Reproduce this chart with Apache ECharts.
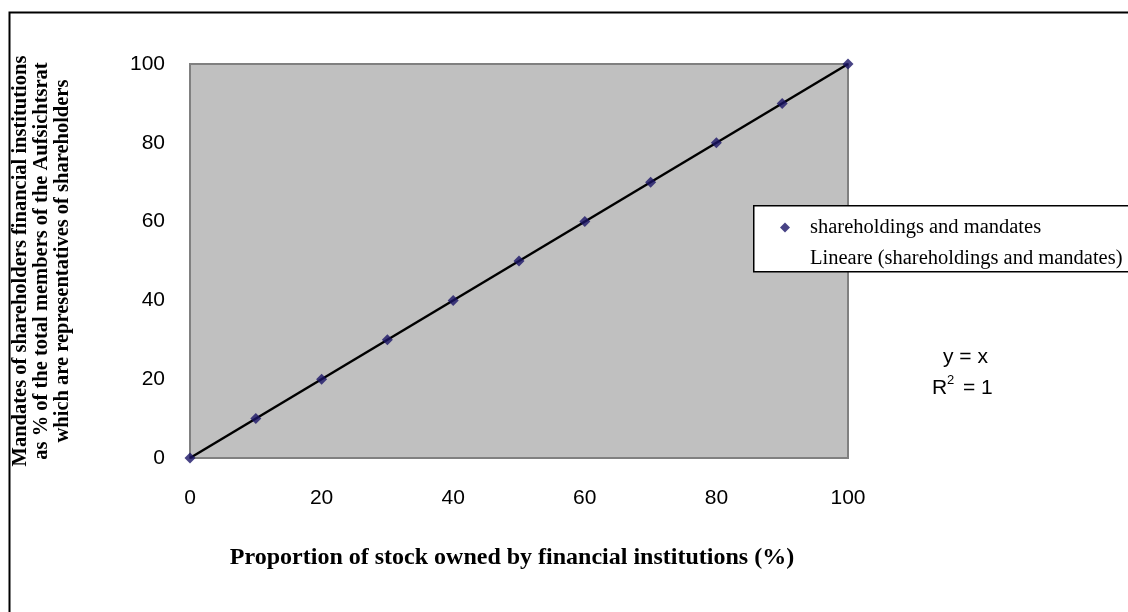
<!DOCTYPE html>
<html><head><meta charset="utf-8">
<script src="https://cdn.jsdelivr.net/npm/echarts@6/dist/echarts.min.js"></script>
<style>html,body{margin:0;padding:0;background:#fff}#c{width:1128px;height:612px}</style>
</head><body><div id="c"></div>
<script>
const xValues = [0, 10, 20, 30, 40, 50, 60, 70, 80, 90, 100];
const yValues = [0, 10, 20, 30, 40, 50, 60, 70, 80, 90, 100];
const trendX = [0, 100];
const trendY = [0, 100];
const seriesName = 'shareholdings and mandates';
const trendName = 'Lineare (shareholdings and mandates)';
const xTitle = 'Proportion of stock owned by financial institutions (%)';
const yTitleLines = ['Mandates of shareholders financial institutions', 'as % of the total members of the Aufsichtsrat', 'which are representatives of shareholders'];
const eqLine1 = 'y = x';
const eqR = 'R';
const eqSup = '2';
const eqRest = '= 1';

const chart = echarts.init(document.getElementById('c'), null, {renderer: 'canvas'});
const serif = '"Liberation Serif","Times New Roman",serif';
const sans = '"Liberation Sans",Arial,sans-serif';
chart.setOption({
  animation: false,
  grid: {left: 190, top: 64, width: 658, height: 394, show: true, backgroundColor: '#c0c0c0', borderColor: '#808080', borderWidth: 2, containLabel: false, outerBoundsMode: 'none'},
  xAxis: {
    type: 'value', min: 0, max: 100, interval: 20,
    axisLine: {show: false}, axisTick: {show: false}, splitLine: {show: false},
    axisLabel: {color: '#000', fontFamily: sans, fontSize: 21, margin: 30},
    name: xTitle, nameLocation: 'middle', nameGap: 88,
    nameTextStyle: {fontFamily: serif, fontWeight: 'bold', fontSize: 24, color: '#000', padding: [0, 14, 0, 0]}
  },
  yAxis: {
    type: 'value', min: 0, max: 100, interval: 20,
    axisLine: {show: false}, axisTick: {show: false}, splitLine: {show: false},
    axisLabel: {color: '#000', fontFamily: sans, fontSize: 21, margin: 25},
    name: yTitleLines.join('\n'), nameLocation: 'middle', nameRotate: 90, nameGap: 117,
    nameTextStyle: {fontFamily: serif, fontWeight: 'bold', fontSize: 20.5, lineHeight: 21, color: '#000', align: 'center'}
  },
  legend: {
    orient: 'vertical', left: 775, top: 212, itemWidth: 10, itemHeight: 10, itemGap: 10, z: 10,
    textStyle: {fontFamily: serif, fontSize: 20.5, color: '#000', padding: [0, 0, 0, 15]},
    data: [{name: seriesName, icon: 'diamond'}, {name: trendName, icon: 'none'}]
  },
  graphic: [
    {type: 'rect', left: 7, top: 10, shape: {width: 1140, height: 620}, style: {fill: 'none', stroke: '#000', lineWidth: 2}, z: 1},
    {type: 'rect', left: 753, top: 205, shape: {width: 400, height: 66}, style: {fill: '#fff', stroke: '#000', lineWidth: 1.5}, z: 5},
    {type: 'text', left: 943, top: 347, style: {text: eqLine1, font: '21px ' + sans, fill: '#000'}, z: 5},
    {type: 'text', left: 932, top: 378, style: {text: eqR, font: '21px ' + sans, fill: '#000'}, z: 5},
    {type: 'text', left: 947, top: 374, style: {text: eqSup, font: '13px ' + sans, fill: '#000'}, z: 5},
    {type: 'text', left: 963, top: 378, style: {text: eqRest, font: '21px ' + sans, fill: '#000'}, z: 5}
  ],
  series: [
    {name: trendName, type: 'line', data: trendX.map((x, i) => [x, trendY[i]]), symbol: 'none', lineStyle: {color: '#000', width: 2.5}, itemStyle: {color: '#000'}, z: 2},
    {name: seriesName, type: 'scatter', data: xValues.map((x, i) => [x, yValues[i]]), symbol: 'diamond', symbolSize: 11, itemStyle: {color: '#1a1466'}, z: 3}
  ]
});
</script></body></html>
